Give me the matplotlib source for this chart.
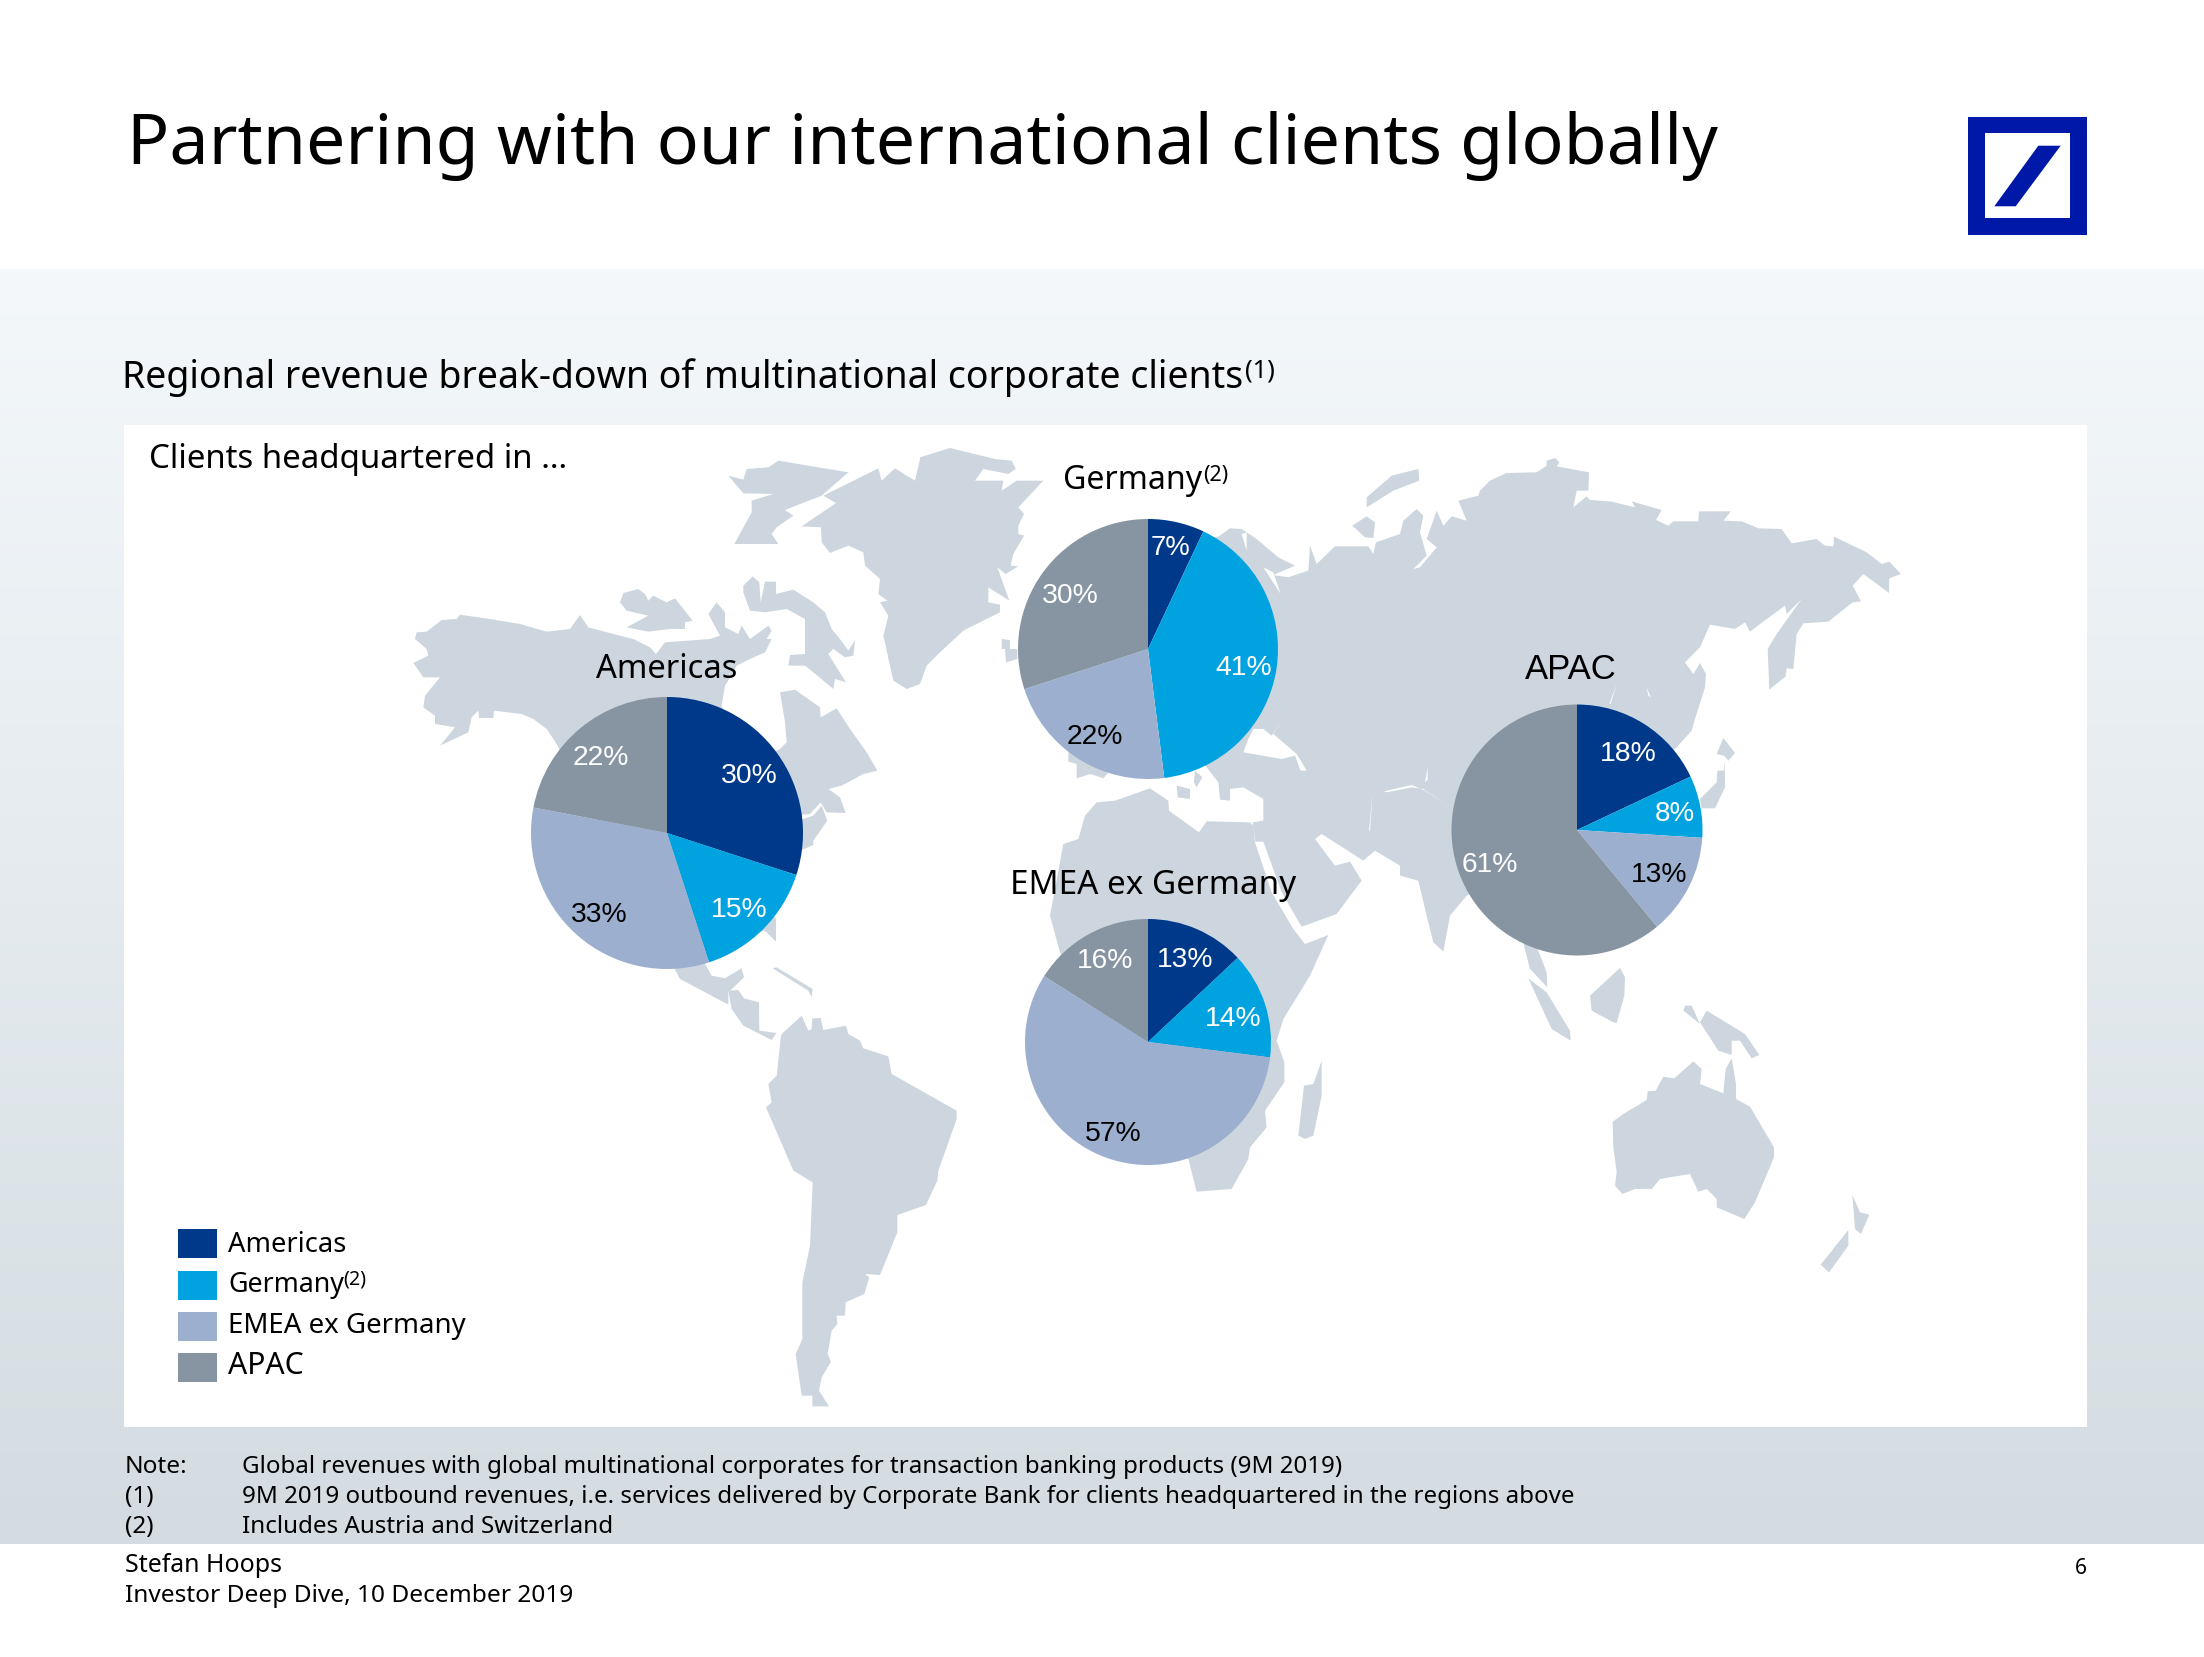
import numpy as np
import matplotlib
matplotlib.use("Agg")
import matplotlib.pyplot as plt
from matplotlib.patches import Polygon, Rectangle

# ---------- data ----------
regions = ["Americas", "Germany", "EMEA ex Germany", "APAC"]
americas_values = [30, 15, 33, 22]
germany_values = [7, 41, 22, 30]
emea_values = [13, 14, 57, 16]
apac_values = [18, 8, 13, 61]
slice_colors = ["#00398A", "#00A3E0", "#9CAFCF", "#8795A3"]
label_colors = ["white", "white", "black", "white"]

W, H = 2204, 1658
SANS = "Noto Sans"
ARIAL = "Liberation Sans"
LAND = "#CDD6DE"

fig = plt.figure(figsize=(W / 100, H / 100), dpi=100, facecolor="white")
bg = fig.add_axes([0, 0, 1, 1])
bg.set_xlim(0, W)
bg.set_ylim(H, 0)
bg.axis("off")

# slide background
top = np.array([244, 248, 251]) / 255
bot = np.array([212, 220, 225]) / 255
ramp = np.linspace(0, 1, 400)[:, None, None]
bg.imshow(top + (bot - top) * ramp, extent=(0, W, 1545, 270), aspect="auto", zorder=0)
bg.set_xlim(0, W)
bg.set_ylim(H, 0)
bg.add_patch(Rectangle((124, 426), 1963, 1002, fc="white", ec="none", zorder=1))


# ---------- map outline (traced in zoomed crops: origin + crop px / 3) ----------
def cr(ox, oy, pts):
    return [(ox + x / 3, oy + y / 3) for x, y in pts]


def land(pts, color=LAND, z=2):
    bg.add_patch(Polygon(pts, closed=True, fc=color, ec="none", zorder=z))


C5, C6, C7, C8, C9, C10 = (400, 440), (920, 440), (1400, 440), (680, 960), (1000, 760), (1480, 900)

north_america = (
    cr(*C5, [(45, 600), (50, 580), (80, 578), (125, 543), (170, 540), (180, 527), (270, 540), (360, 555),
             (440, 578), (510, 570), (540, 528), (565, 565), (640, 585), (700, 600), (750, 625), (768, 645),
             (795, 610), (930, 600), (960, 590), (925, 525), (950, 490), (975, 520), (975, 565), (1015, 585),
             (1025, 560), (1050, 600), (1105, 560), (1115, 575), (1100, 600), (1115, 600), (1095, 640),
             (1050, 660), (1010, 680), (1000, 700), (975, 740), (965, 800), (1000, 900), (1100, 950),
             (1140, 930), (1160, 910), (1155, 850), (1140, 760), (1185, 752), (1260, 805), (1262, 835),
             (1310, 808), (1350, 870), (1400, 940), (1432, 995), (1390, 1005), (1325, 1040), (1285, 1050),
             (1320, 1075), (1337, 1122), (1280, 1120), (1262, 1090), (1230, 1125), (1180, 1130), (1210, 1140),
             (1240, 1130), (1265, 1100), (1282, 1145), (1240, 1205), (1240, 1218), (1208, 1232), (1150, 1300),
             (1100, 1400), (1128, 1440), (1128, 1508), (1095, 1475), (960, 1500)])
    + cr(*C8, [(75, 15), (95, 50), (135, 58), (185, 28), (192, 55), (145, 100), (145, 137), (0, 60)])
    + cr(*C5, [(470, 915), (440, 870), (400, 840), (365, 825), (282, 815), (280, 837), (237, 837), (235, 815),
               (215, 835), (205, 880), (120, 920), (165, 865), (105, 855), (105, 830), (70, 805), (75, 770),
               (120, 715), (70, 715), (40, 672), (85, 650), (80, 630)])
)
land(north_america)
land(cr(*C8, [(145, 95), (175, 93), (192, 118), (237, 130), (238, 215), (290, 222), (275, 243), (190, 200),
              (155, 150)]))
land(cr(*C8, [(278, 28), (290, 25), (398, 90), (395, 115), (385, 95)]))
land(cr(*C8, [(305, 225), (365, 170), (385, 215), (395, 210), (397, 178), (422, 177), (430, 213), (498, 200),
              (505, 225), (540, 245), (550, 268), (625, 292), (635, 345), (830, 455), (830, 480), (775, 635),
              (772, 665), (738, 738), (652, 768), (652, 820), (600, 948), (555, 945), (568, 955), (553, 1005),
              (497, 1030), (495, 1070), (470, 1070), (472, 1095), (455, 1115), (443, 1185), (453, 1208),
              (425, 1255), (417, 1295), (447, 1342), (397, 1342), (397, 1310), (365, 1310), (347, 1185),
              (367, 1140), (367, 970), (390, 860), (398, 670), (340, 635), (258, 445), (275, 430), (265, 375),
              (290, 350), (302, 240)]))
# arctic islands
land(cr(*C5, [(985, 110), (1030, 122), (1040, 90), (1105, 85), (1135, 65), (1345, 100), (1265, 170), (1155, 213),
              (1180, 230), (1130, 265), (1115, 285), (1135, 315), (1003, 315), (1055, 220), (1055, 185),
              (1120, 165), (1030, 163)]))
land(cr(*C5, [(660, 490), (670, 462), (715, 450), (735, 465), (745, 485), (760, 470), (800, 490), (825, 478),
              (878, 545), (855, 550), (855, 570), (810, 570), (745, 578), (680, 565), (745, 530), (680, 515)]))
land(cr(*C5, [(1030, 460), (1030, 440), (1058, 412), (1078, 430), (1082, 490), (1095, 428), (1128, 428),
              (1128, 465), (1180, 452), (1240, 490), (1275, 520), (1295, 570), (1320, 600), (1345, 635),
              (1365, 603), (1360, 650), (1335, 655), (1300, 630), (1285, 645), (1338, 730), (1305, 720),
              (1300, 750), (1240, 700), (1215, 680), (1165, 680), (1170, 648), (1215, 645), (1215, 540),
              (1160, 510), (1095, 520), (1050, 515)]))
# Greenland
land(cr(*C5, [(1270, 170), (1435, 88), (1445, 125), (1485, 88), (1545, 125), (1560, 60)])
     + cr(*C6, [(0, 55), (90, 27), (225, 60), (275, 65), (287, 90), (265, 105), (190, 90), (165, 125), (250, 125),
                (245, 155), (290, 125), (370, 125), (295, 205), (312, 225), (295, 260), (295, 285), (312, 290),
                (280, 345), (272, 380), (295, 382), (257, 405), (232, 385), (268, 485), (205, 445), (205, 490),
                (240, 497), (240, 520), (130, 575), (60, 640), (20, 680), (0, 735)])
     + cr(*C5, [(1520, 750), (1480, 725), (1450, 590), (1465, 530), (1440, 490), (1462, 485), (1435, 465),
                (1440, 420), (1395, 380), (1390, 340), (1345, 320), (1290, 342), (1265, 310), (1263, 265),
                (1205, 262), (1308, 192)]))
land(cr(*C6, [(245, 600), (270, 603), (270, 630), (292, 630), (292, 660), (258, 670), (255, 630), (245, 630)]))
land(cr(*C6, [(445, 930), (445, 968), (470, 975), (470, 1018), (512, 1005), (550, 1018), (600, 960)]))
land(cr(*C6, [(1340, 205), (1340, 175), (1415, 110), (1495, 90), (1498, 125), (1420, 155)]))
land(cr(*C6, [(1297, 260), (1340, 232), (1365, 250), (1360, 297), (1335, 295)]))
# Eurasia
eurasia = (
    cr(*C6, [(850, 300), (895, 293), (930, 268), (965, 270), (1010, 300), (1075, 355), (1125, 380), (1060, 408),
             (1105, 415), (1125, 408), (1165, 395), (1170, 320), (1190, 375), (1245, 322), (1345, 322),
             (1360, 345), (1368, 310), (1440, 285), (1450, 245), (1490, 210), (1510, 230)])
    + cr(*C7, [(60, 280), (80, 350), (40, 390), (60, 385), (110, 325), (80, 300), (110, 215), (130, 260), (155, 232),
               (200, 245), (175, 185), (235, 170), (240, 155), (270, 125), (320, 102), (410, 100), (440, 80),
               (440, 65), (465, 57), (478, 70), (470, 82), (567, 100), (565, 155), (530, 155), (520, 205),
               (560, 172), (570, 183), (635, 188), (705, 205), (695, 187), (785, 213), (768, 243), (805, 260),
               (820, 247), (895, 247), (897, 217), (993, 217), (970, 245), (1025, 247), (1075, 268), (1145, 270),
               (1175, 313), (1250, 300), (1275, 320), (1300, 322), (1302, 293), (1400, 340), (1445, 375),
               (1468, 368), (1503, 405), (1468, 418), (1467, 462), (1390, 405), (1358, 440), (1383, 487),
               (1358, 490), (1285, 548), (1210, 553), (1190, 585), (1180, 690), (1160, 688), (1157, 712),
               (1108, 752), (1103, 630), (1130, 585), (1205, 480), (1160, 525), (1155, 500), (1080, 555),
               (1050, 578), (1035, 550), (1005, 570), (930, 557), (900, 625), (855, 670), (880, 705), (900, 672),
               (918, 705), (915, 745), (885, 840), (875, 875), (830, 925), (530, 1170)])
    + cr(*C9, [(1400, 410), (1350, 470), (1330, 578), (1300, 550), (1280, 470), (1255, 365), (1200, 350), (1200, 320),
               (1125, 275), (1090, 305), (965, 225), (945, 240), (1005, 320), (1050, 308), (1085, 365), (1010, 465),
               (905, 503), (845, 400), (790, 248), (766, 248), (758, 190), (790, 185), (790, 120), (730, 85),
               (690, 90), (690, 125), (660, 122), (655, 70), (620, 25), (610, 10)])
)
land(eurasia)
# Africa and Madagascar
land(cr(*C9, [(450, 88), (505, 125), (507, 155), (597, 220), (620, 187), (750, 190), (760, 200), (765, 250),
              (815, 400), (880, 510), (915, 555), (985, 528), (930, 650), (850, 780), (830, 845), (853, 910),
              (853, 970), (795, 1055), (800, 1105), (750, 1165), (745, 1200), (695, 1290), (590, 1298), (565, 1200),
              (300, 800), (180, 580), (150, 470), (190, 255), (235, 240), (255, 170), (290, 130), (345, 125)]))
land(cr(*C9, [(965, 905), (965, 1010), (940, 1130), (915, 1140), (895, 1130), (912, 980), (940, 975)]))
land(cr(*C9, [(530, 80), (570, 90), (570, 120), (533, 115)]))
land(cr(*C9, [(585, 35), (607, 55), (590, 85), (582, 70)]))
# Japan and South-East Asia, Oceania
land(cr(*C7, [(950, 945), (970, 897), (1005, 942), (985, 965), (972, 950)]))
land(cr(*C7, [(975, 965), (975, 1045), (945, 1108), (905, 1108), (900, 1080), (950, 1030), (952, 995), (972, 995)]))
land(cr(*C10, [(127, 120), (165, 130), (200, 220), (202, 265), (150, 210)]))
land(cr(*C10, [(145, 238), (200, 280), (270, 395), (272, 425), (215, 390)]))
land(cr(*C10, [(330, 290), (420, 207), (435, 235), (433, 290), (410, 372), (400, 370), (335, 335)]))
land(cr(*C10, [(610, 335), (660, 375), (635, 320), (615, 320)]))
land(cr(*C10, [(680, 335), (795, 405), (838, 468), (815, 478), (780, 425), (755, 425), (755, 468), (715, 455),
               (660, 370)]))
land(cr(*C10, [(398, 668), (430, 645), (500, 603), (503, 577), (527, 575), (550, 533), (583, 538), (640, 487),
               (665, 510), (660, 555), (730, 583), (737, 510), (755, 478), (768, 555), (768, 600), (810, 623),
               (882, 745), (882, 775), (825, 910), (793, 960), (710, 925), (710, 900), (680, 870), (655, 878),
               (630, 825), (540, 840), (515, 870), (465, 870), (427, 885), (405, 860), (410, 820), (400, 745)]))
land(cr(*C10, [(1117, 888), (1140, 940), (1168, 947), (1143, 1005), (1125, 990)]))
land(cr(*C10, [(1105, 993), (1105, 1040), (1047, 1120), (1022, 1097)]))
# inland seas and thin borders
land(cr(*C6, [(1000, 870), (1030, 870), (1055, 890), (1090, 840), (1060, 885), (1130, 945), (1160, 995), (1142, 995),
              (1125, 950), (1085, 960), (970, 940), (985, 900)]), "white", 3)
land(cr(*C6, [(1030, 385), (1060, 400), (1082, 465)]), "white", 3)
land(cr(*C6, [(965, 285), (980, 280), (980, 335)]), "white", 3)
land(cr(*C9, [(1152, 97), (1235, 78), (1275, 95), (1350, 145), (1270, 90), (1235, 85), (1160, 100)]), "white", 3)
land(cr(*C9, [(1283, 25), (1275, 70), (1283, 62)]), "white", 3)
land(cr(*C9, [(1118, 100), (1107, 215), (1110, 215)]), "white", 3)
land(cr(*C7, [(650, 735), (628, 795), (632, 795)]), "white", 3)
land(cr(*C7, [(740, 745), (752, 775), (745, 770)]), "white", 3)

# logo
LOGO = "#0018A8"
bg.add_patch(Rectangle((1968, 118), 119, 118, fc=LOGO, ec="none", zorder=2))
bg.add_patch(Rectangle((1985, 134), 85, 85, fc="white", ec="none", zorder=3))
bg.add_patch(Polygon([(2038.3, 146.7), (2060.7, 146.7), (2015.7, 207.3), (1994.3, 207.3)], fc=LOGO, ec="none", zorder=4))

# legend swatches
for color, y0 in zip(slice_colors, [1230, 1272, 1313, 1354]):
    bg.add_patch(Rectangle((178, y0), 39, 29, fc=color, ec="none", zorder=2))


# ---------- pies ----------
def draw_pie(values, cx, cy, r):
    ax = fig.add_axes([(cx - r) / W, 1 - (cy + r) / H, 2 * r / W, 2 * r / H])
    ax.pie(values, colors=slice_colors, startangle=90, counterclock=False, radius=1,
           wedgeprops={"linewidth": 0})
    ax.set_xlim(-1, 1)
    ax.set_ylim(-1, 1)
    ax.set_aspect("equal")
    ax.patch.set_alpha(0)
    return ax


draw_pie(americas_values, 667, 834, 136)
draw_pie(germany_values, 1148, 650, 130)
draw_pie(emea_values, 1148, 1043, 123)
draw_pie(apac_values, 1577, 831, 125.5)

# ---------- text overlay ----------
ov = fig.add_axes([0, 0, 1, 1])
ov.set_xlim(0, W)
ov.set_ylim(H, 0)
ov.axis("off")
ov.patch.set_alpha(0)
renderer = fig.canvas.get_renderer()


def T(x, y, s, width=None, size=20, family=SANS, color="black", ha="left"):
    t = ov.text(x, y, s, fontsize=size, family=family, color=color, ha=ha, va="baseline")
    if width is not None:
        w = t.get_window_extent(renderer).width
        t.set_fontsize(size * width / w)
    return t


T(127, 164, "Partnering with our international clients globally", width=1589, size=50)
T(122, 388, "Regional revenue break-down of multinational corporate clients", width=1122, size=28)
T(1245, 377, "(1)", width=30, size=16)
T(149, 468, "Clients headquartered in …", width=420, size=24)

T(1063, 489, "Germany", width=139, size=24)
T(1203, 481, "(2)", width=25, size=14)
T(667, 678, "Americas", width=142, size=24, ha="center")
T(1010, 894, "EMEA ex Germany", width=286, size=24)
T(1525, 679, "APAC", width=92, size=24, family=ARIAL)


def pct_labels(values, centers):
    for v, (x, y), c in zip(values, centers, label_colors):
        T(x, y + 10, f"{v}%", width=57 if v >= 10 else 40, size=19.5, family=ARIAL, color=c, ha="center")


pct_labels(americas_values, [(749, 773), (739, 907), (599, 912), (601, 755)])
pct_labels(germany_values, [(1171, 545), (1244, 665), (1095, 734), (1070, 593)])
pct_labels(emea_values, [(1185, 957), (1233, 1016), (1113, 1131), (1105, 958)])
pct_labels(apac_values, [(1628, 751), (1675, 811), (1659, 872), (1490, 862)])

# legend labels
T(228, 1252, regions[0], width=118, size=20)
T(228, 1292, regions[1], width=116, size=20)
T(343, 1285, "(2)", width=23, size=12)
T(228, 1333, regions[2], width=238, size=20)
T(228, 1374, regions[3], width=76, size=20)

# notes and footer
for y, tag, body, w in [
    (1473, "Note:", "Global revenues with global multinational corporates for transaction banking products (9M 2019)", 1098),
    (1503, "(1)", "9M 2019 outbound revenues, i.e. services delivered by Corporate Bank for clients headquartered in the regions above", 1330),
    (1533, "(2)", "Includes Austria and Switzerland", 371),
]:
    T(125, y, tag, size=17.6)
    T(242, y, body, width=w, size=17)

T(125, 1572, "Stefan Hoops", width=157, size=17)
T(125, 1602, "Investor Deep Dive, 10 December 2019", width=447, size=17)
T(2087, 1574, "6", size=15, ha="right")

fig.savefig("out.png", dpi=100, facecolor="white")
